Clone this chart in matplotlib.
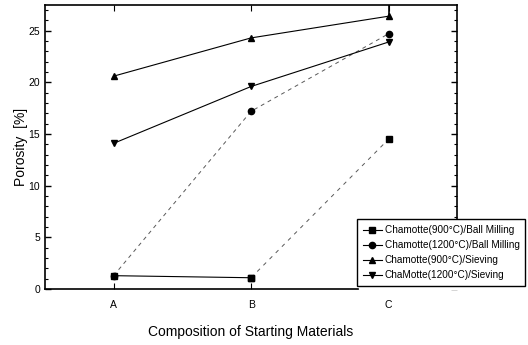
import matplotlib
matplotlib.use("Agg")
import matplotlib.pyplot as plt
from matplotlib.ticker import MultipleLocator

plt.rcParams['font.family'] = ['Liberation Sans', 'DejaVu Sans']

compositions = ["A", "B", "C"]
x = [0, 1, 2]

# porosity [%]
ball_900 = [1.3, 1.1, 14.5]
ball_1200 = [1.3, 17.2, 24.7]
siev_900 = [20.6, 24.3, 26.4]
siev_1200 = [14.1, 19.6, 23.9]
siev_900_err = [0, 0, 1.5]

labels = ["Chamotte(900\u00b0C)/Ball Milling",
          "Chamotte(1200\u00b0C)/Ball Milling",
          "Chamotte(900\u00b0C)/Sieving",
          "ChaMotte(1200\u00b0C)/Sieving"]

fig = plt.figure(figsize=(5.28, 3.45), dpi=100)
ax = fig.add_axes([0.085, 0.162, 0.781, 0.824])

ms = 4.5
# ball milling 900: solid between A-B, broken dashes towards C
ax.plot(x[:2], ball_900[:2], color="black", lw=0.8, marker="s", ms=ms)
ax.plot(x[1:], ball_900[1:], color="0.35", lw=0.7, ls=(0, (4, 5)), marker="s", ms=ms,
        mfc="black", mec="black")
ax.plot(x, ball_1200, color="0.35", lw=0.7, ls=(0, (4, 4)), marker="o", ms=ms,
        mfc="black", mec="black")
ax.plot(x, siev_900, color="black", lw=0.8, marker="^", ms=ms + 0.5)
ax.errorbar(x, siev_900, yerr=[[0, 0, 0], siev_900_err], fmt="none",
            ecolor="black", elinewidth=1.2, capsize=0)
ax.plot(x, siev_1200, color="black", lw=0.8, marker="v", ms=ms + 0.5)

ax.set_xlim(-0.5, 2.5)
ax.set_ylim(0, 27.5)
ax.set_xticks(x)
ax.set_xticklabels(compositions)
ax.yaxis.set_major_locator(MultipleLocator(5))
ax.yaxis.set_minor_locator(MultipleLocator(1))
ax.tick_params(axis="both", which="both", direction="in", top=True, right=True,
               labelsize=7.5)
ax.tick_params(axis="y", which="major", length=4, width=1)
ax.tick_params(axis="y", which="minor", length=2, width=0.8)
ax.tick_params(axis="x", which="major", length=4, pad=8)
for s in ax.spines.values():
    s.set_linewidth(1.2)

ax.set_ylabel("Porosity  [%]", fontsize=10, labelpad=0)
ax.set_xlabel("Composition of Starting Materials", fontsize=10, labelpad=11)

handles = [
    plt.Line2D([], [], color="black", lw=0.8, marker="s", ms=ms),
    plt.Line2D([], [], color="black", lw=0.8, marker="o", ms=ms),
    plt.Line2D([], [], color="black", lw=0.8, marker="^", ms=ms),
    plt.Line2D([], [], color="black", lw=0.8, marker="v", ms=ms),
]
leg = fig.legend(handles, labels, loc="upper right", bbox_to_anchor=(0.999, 0.37),
                 fontsize=7.2, frameon=True, fancybox=False, handlelength=1.9,
                 borderpad=0.6, labelspacing=0.5, handletextpad=0.3,
                 borderaxespad=0.2,
                 shadow={"ox": 2, "oy": -2, "shade": 0, "alpha": 1})
leg.get_frame().set_edgecolor("black")
leg.get_frame().set_linewidth(1.0)

fig.savefig("out.png", dpi=100)
